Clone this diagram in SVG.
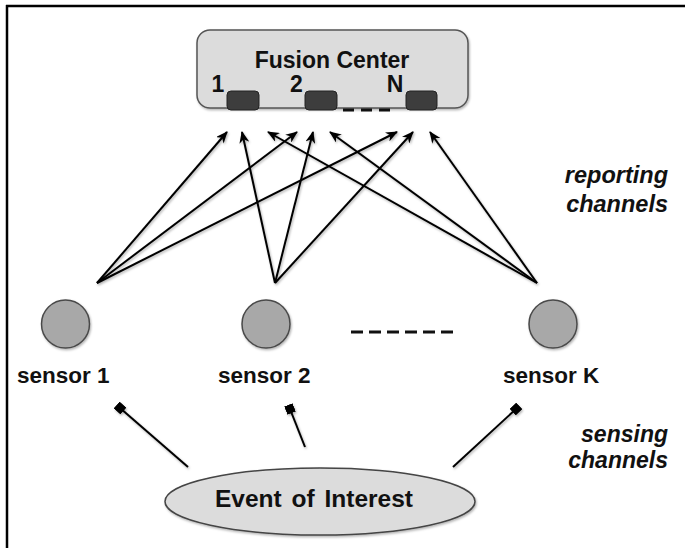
<svg xmlns="http://www.w3.org/2000/svg" width="685" height="548" viewBox="0 0 685 548">
  <style>
    .t { font-family: "Liberation Sans", Arial, sans-serif; fill: #111; }
    .b { font-weight: bold; }
    .bi { font-weight: bold; font-style: italic; }
    .conn { stroke: #000; stroke-width: 2; fill: none; }
    .dash { stroke: #111; stroke-width: 3; }
    .port { fill: #3d3d3d; stroke: #222; stroke-width: 1; }
    .sensor { fill: #a8a8a8; stroke: #4a4a4a; stroke-width: 1.5; }
  </style>
  <defs>
    <filter id="sh" x="-20%" y="-20%" width="140%" height="140%">
      <feDropShadow dx="1" dy="1.5" stdDeviation="1" flood-color="#000" flood-opacity="0.3"/>
    </filter>
    <marker id="arrow" viewBox="0 0 12 10" refX="11" refY="5" markerWidth="12" markerHeight="10" markerUnits="userSpaceOnUse" orient="auto">
      <path d="M0,0 L12,5 L0,10 L3.5,5 z" fill="#000"/>
    </marker>
    <marker id="sq" viewBox="0 0 9 9" refX="4.5" refY="4.5" markerWidth="9" markerHeight="9" markerUnits="userSpaceOnUse" orient="auto">
      <rect x="0" y="0" width="9" height="9" fill="#000"/>
    </marker>
  </defs>

  <rect width="685" height="548" fill="#fff"/>
  <g id="frame" stroke="#000" stroke-width="2.5">
    <line x1="7" y1="5" x2="7" y2="548"/>
    <line x1="6" y1="6" x2="685" y2="6"/>
  </g>

  <g id="fusion-center">
    <rect x="197" y="30" width="271" height="78" rx="13" fill="#dcdcdc" stroke="#555" stroke-width="1.5" filter="url(#sh)"/>
    <text class="t b" x="332" y="68" font-size="23" text-anchor="middle">Fusion Center</text>
    <text class="t b" x="218" y="92" font-size="23" text-anchor="middle">1</text>
    <text class="t b" x="296.5" y="92" font-size="23" text-anchor="middle">2</text>
    <text class="t b" x="395" y="92" font-size="23" text-anchor="middle">N</text>
  </g>
  <g id="port-1"><rect class="port" x="227" y="91" width="32" height="19" rx="4"/></g>
  <g id="port-2"><rect class="port" x="305" y="91" width="32" height="19" rx="4"/></g>
  <g id="port-N"><rect class="port" x="406" y="91" width="31" height="19" rx="4"/></g>
  <g id="port-dots">
    <line class="dash" x1="343" y1="110" x2="390" y2="110" stroke-dasharray="11 7"/>
  </g>

  <g id="sensor-1">
    <circle class="sensor" cx="65.5" cy="324" r="24" filter="url(#sh)"/>
    <text class="t b" x="17" y="383" font-size="22.5">sensor 1</text>
  </g>
  <g id="sensor-2">
    <circle class="sensor" cx="266" cy="324" r="24" filter="url(#sh)"/>
    <text class="t b" x="218" y="383" font-size="22.5">sensor 2</text>
  </g>
  <g id="sensor-dots">
    <line class="dash" x1="351" y1="332" x2="453" y2="332" stroke-dasharray="12 6"/>
  </g>
  <g id="sensor-K">
    <circle class="sensor" cx="553" cy="324" r="24" filter="url(#sh)"/>
    <text class="t b" x="503" y="383" font-size="22.5">sensor K</text>
  </g>

  <g id="event">
    <ellipse cx="320" cy="501.5" rx="155" ry="33.5" fill="#dcdcdc" stroke="#444" stroke-width="1.5" filter="url(#sh)"/>
    <text class="t b" x="314" y="507" font-size="24.5" text-anchor="middle" word-spacing="3">Event of Interest</text>
  </g>

  <g id="labels">
    <text class="t bi" x="668" y="183" font-size="23.5" text-anchor="end">reporting</text>
    <text class="t bi" x="668" y="212" font-size="23.5" text-anchor="end">channels</text>
    <text class="t bi" x="668" y="442" font-size="23" text-anchor="end">sensing</text>
    <text class="t bi" x="668" y="468" font-size="23" text-anchor="end">channels</text>
  </g>

  <g id="connectors" filter="url(#sh)">
    <line class="conn" x1="97" y1="283" x2="227" y2="132" marker-end="url(#arrow)"/>
    <line class="conn" x1="97" y1="283" x2="297" y2="132" marker-end="url(#arrow)"/>
    <line class="conn" x1="97" y1="283" x2="397" y2="132" marker-end="url(#arrow)"/>
    <line class="conn" x1="275" y1="283" x2="242" y2="132" marker-end="url(#arrow)"/>
    <line class="conn" x1="275" y1="283" x2="313" y2="132" marker-end="url(#arrow)"/>
    <line class="conn" x1="275" y1="283" x2="413" y2="132" marker-end="url(#arrow)"/>
    <line class="conn" x1="537" y1="283" x2="268" y2="132" marker-end="url(#arrow)"/>
    <line class="conn" x1="537" y1="283" x2="330" y2="132" marker-end="url(#arrow)"/>
    <line class="conn" x1="537" y1="283" x2="430" y2="132" marker-end="url(#arrow)"/>
    <line class="conn" x1="188" y1="467" x2="120" y2="408" marker-end="url(#sq)"/>
    <line class="conn" x1="305" y1="447" x2="290" y2="409" marker-end="url(#sq)"/>
    <line class="conn" x1="453" y1="467" x2="516" y2="409" marker-end="url(#sq)"/>
  </g>
</svg>
